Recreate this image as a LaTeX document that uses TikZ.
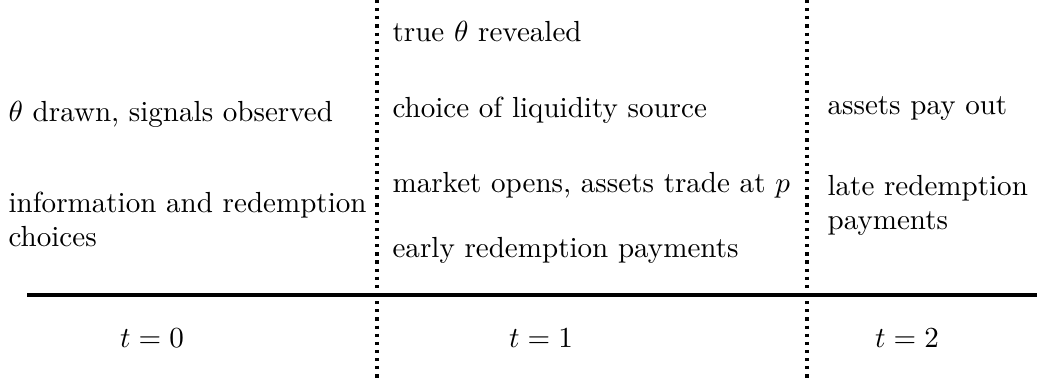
\documentclass[tikz,border=0pt]{standalone}
\begin{document}
\begin{tikzpicture}[x=0.344pt,y=0.344pt]
    \useasboundingbox (0,0) rectangle (1037,381);
    % time axis and the two period separators
    \coordinate (ax0) at (27,86);
    \coordinate (ax1) at (1037,86);
    \draw[line width=1.2pt](ax0) -- (ax1);
    \coordinate (sep1top) at (377,381);
    \coordinate (sep1bot) at (377,3);
    \coordinate (sep2top) at (807,381);
    \coordinate (sep2bot) at (807,3);
    \draw[line width=1.1pt, dash pattern=on 1.1pt off 1.7pt](sep1top) -- (sep1bot);
    \draw[line width=1.1pt, dash pattern=on 1.1pt off 1.7pt](sep2top) -- (sep2bot);
    % dates
    \node[inner sep=0pt] (tid0) at (152,43){$t=0$};
    \node[inner sep=0pt] (tid1) at (541,43){$t=1$};
    \node[inner sep=0pt] (tid2) at (907,43){$t=2$};
    % events at t=0
    \node[anchor=base west, inner sep=0pt] (ev01) at (8,259){$\theta$ drawn, signals observed};
    \node[anchor=base west, inner sep=0pt, align=left] (ev02) at (8,134){information and redemption\\choices};
    % events at t=1
    \node[anchor=base west, inner sep=0pt] (ev11) at (392,339){true $\theta$ revealed};
    \node[anchor=base west, inner sep=0pt] (ev12) at (392,263){choice of liquidity source};
    \node[anchor=base west, inner sep=0pt] (ev13) at (392,188){market opens, assets trade at $p$};
    \node[anchor=base west, inner sep=0pt] (ev14) at (392,123){early redemption payments};
    % events at t=2
    \node[anchor=base west, inner sep=0pt] (ev21) at (827,266){assets pay out};
    \node[anchor=base west, inner sep=0pt, align=left] (ev22) at (827,151){late redemption\\payments};
  \end{tikzpicture}
\end{document}
